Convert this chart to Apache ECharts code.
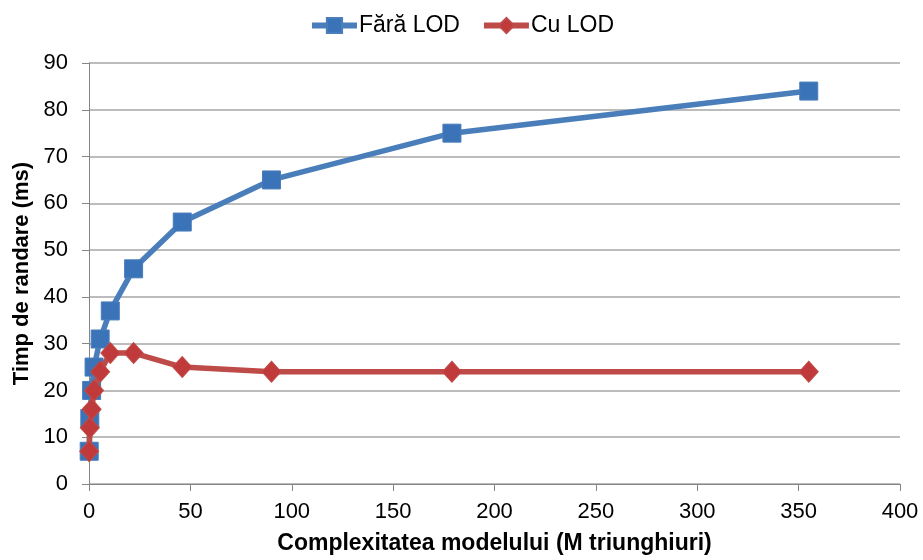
<!DOCTYPE html>
<html>
<head>
<meta charset="utf-8">
<script src="https://cdn.jsdelivr.net/npm/echarts@6/dist/echarts.min.js"></script>
<style>
html,body{margin:0;padding:0;background:#fff;}
#chart{width:923px;height:560px;}
</style>
</head>
<body>
<div id="chart"></div>
<script>
// Data
const complexity = [0.1, 0.4, 1.3, 2.5, 5.5, 10.5, 22, 46, 90, 179, 355];
const timeNoLOD = [7, 14, 20, 25, 31, 37, 46, 56, 65, 75, 84];
const timeLOD   = [7, 12, 16, 20, 24, 28, 28, 25, 24, 24, 24];
const seriesNames = ['Fără LOD', 'Cu LOD'];
const xTitle = 'Complexitatea modelului (M triunghiuri)';
const yTitle = 'Timp de randare (ms)';

const pair = (xs, ys) => xs.map((x, i) => [x, ys[i]]);

const font = 'Liberation Sans, Arial, sans-serif';
const blue = '#4a7ebb', blueMark = '#3b73b9';
const red = '#be4b48', redMark = '#c0393b';
const chart = echarts.init(document.getElementById('chart'));
chart.setOption({
  animation: false,
  textStyle: { fontFamily: font },
  legend: {
    top: 9,
    left: 'center',
    itemWidth: 45,
    itemHeight: 19,
    itemGap: 21,
    textStyle: { fontSize: 23, color: '#000', fontFamily: font, padding: [0, 0, 0, -3] },
    data: [
      { name: seriesNames[0], lineStyle: { width: 6, color: blue } },
      { name: seriesNames[1], lineStyle: { width: 6, color: red } }
    ]
  },
  grid: { left: 89, right: 23, top: 63, bottom: 75 },
  xAxis: {
    type: 'value',
    min: 0, max: 400, interval: 50,
    name: xTitle,
    nameLocation: 'middle',
    nameGap: 48,
    nameTextStyle: { fontSize: 23, fontWeight: 'bold', color: '#000', fontFamily: font },
    axisLine: { onZero: false, lineStyle: { color: '#868686', width: 1 } },
    axisTick: { show: true, length: 7, lineStyle: { color: '#868686' } },
    axisLabel: { fontSize: 22, color: '#000', margin: 17, fontFamily: font },
    splitLine: { show: false }
  },
  yAxis: {
    type: 'value',
    min: 0, max: 90, interval: 10,
    name: yTitle,
    nameLocation: 'middle',
    nameGap: 55,
    nameTextStyle: { fontSize: 22, fontWeight: 'bold', color: '#000', fontFamily: font },
    axisLine: { show: true, lineStyle: { color: '#868686', width: 1 } },
    axisTick: { show: true, length: 7, lineStyle: { color: '#868686' } },
    axisLabel: { fontSize: 22, color: '#000', margin: 21, fontFamily: font },
    splitLine: { show: true, lineStyle: { color: '#a6a6a6', width: 1.5 } }
  },
  series: [
    {
      name: seriesNames[0],
      type: 'line',
      data: pair(complexity, timeNoLOD),
      symbol: 'rect',
      symbolSize: 18,
      lineStyle: { color: blue, width: 5.5 },
      itemStyle: { color: blueMark, borderColor: blue, borderWidth: 1 },
      z: 2
    },
    {
      name: seriesNames[1],
      type: 'line',
      data: pair(complexity, timeLOD),
      symbol: 'diamond',
      symbolSize: [19, 21],
      lineStyle: { color: red, width: 5.5 },
      itemStyle: { color: redMark, borderColor: red, borderWidth: 1 },
      z: 3
    }
  ]
});
</script>
</body>
</html>
